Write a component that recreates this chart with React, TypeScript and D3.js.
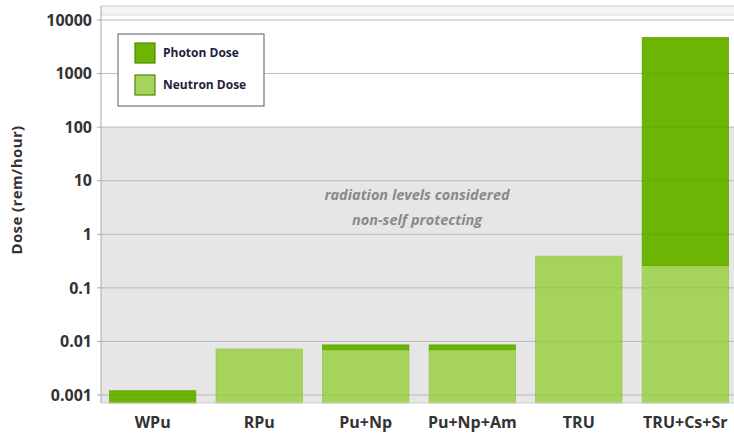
import React from "react";
import * as d3 from "d3";

const categories = ["WPu", "RPu", "Pu+Np", "Pu+Np+Am", "TRU", "TRU+Cs+Sr"];
const neutronDose = [0, 0.0072, 0.007, 0.007, 0.39, 0.26];
const photonDose = [0.0012, 0, 0.0016, 0.0016, 0, 4700];
const tickValues = [0.001, 0.01, 0.1, 1, 10, 100, 1000, 10000];
const tickLabels = ["0.001", "0.01", "0.1", "1", "10", "100", "1000", "10000"];
const legendLabels = ["Photon Dose", "Neutron Dose"];
const shadeThreshold = 100;

const W = 734;
const H = 437;
const left = 101;
const right = 734;
const plotTop = 6;
const plotBottom = 403;

const photonColor = "#6db505";
const neutronColor = "#a6d35c";
const font = "'Open Sans', 'DejaVu Sans', sans-serif";

export default function App() {
  const y = d3.scaleLog().domain([0.001, 10000]).range([395, 20]);
  const x = d3
    .scaleBand<string>()
    .domain(categories)
    .range([left, 737])
    .paddingInner(0.19)
    .paddingOuter(0.08);
  const base = y.invert(plotBottom);

  const bars = categories.map((c, i) => {
    const n = neutronDose[i];
    const p = photonDose[i];
    const nTop = n > 0 ? n : base;
    const total = n + p;
    return { c, n, p, nTop, total };
  });

  return (
    <svg
      width={W}
      height={H}
      style={{ position: "absolute", left: 0, top: 0, background: "#fff" }}
    >
      <rect x={left} y={plotTop} width={right - left} height={9} fill="#f4f4f4" />
      <line x1={left} x2={right} y1={plotTop} y2={plotTop} stroke="#cfcfcf" />
      <line x1={left} x2={right} y1={plotTop + 9} y2={plotTop + 9} stroke="#dcdcdc" />
      <rect
        x={left}
        y={y(shadeThreshold)}
        width={right - left}
        height={plotBottom - y(shadeThreshold)}
        fill="#e6e6e6"
      />
      {tickValues.map((t) => (
        <line
          key={"g" + t}
          x1={left}
          x2={right}
          y1={y(t)}
          y2={y(t)}
          stroke="#c6c6c6"
          strokeWidth={1}
        />
      ))}
      {bars.map((b) => (
        <g key={b.c}>
          {b.n > 0 && (
            <rect
              x={x(b.c)}
              y={y(b.n)}
              width={x.bandwidth()}
              height={plotBottom - y(b.n)}
              fill={neutronColor}
              stroke="#98c64e"
              strokeWidth={0.8}
            />
          )}
          {b.p > 0 && (
            <rect
              x={x(b.c)}
              y={y(b.total)}
              width={x.bandwidth()}
              height={y(b.nTop) - y(b.total)}
              fill={photonColor}
              stroke="#62a504"
              strokeWidth={0.8}
            />
          )}
        </g>
      ))}
      {tickValues.map((t) => (
        <line
          key={"go" + t}
          x1={left}
          x2={right}
          y1={y(t)}
          y2={y(t)}
          stroke="#000"
          strokeOpacity={0.06}
        />
      ))}
      <line x1={left} x2={left} y1={plotTop} y2={plotBottom} stroke="#a8a8a8" />
      <line x1={left} x2={right} y1={plotBottom} y2={plotBottom} stroke="#d0d0d0" />
      {tickValues.map((t, i) => (
        <g key={"t" + t}>
          <line x1={left - 4} x2={left} y1={y(t)} y2={y(t)} stroke="#a8a8a8" />
          <text
            x={92}
            y={y(t)}
            dy="0.36em"
            textAnchor="end"
            fontFamily={font}
            fontWeight={700}
            fontSize={16}
            fill="#333"
          >
            {tickLabels[i]}
          </text>
        </g>
      ))}
      <text
        transform={`translate(22,190) rotate(-90)`}
        textAnchor="middle"
        fontFamily={font}
        fontWeight={700}
        fontSize={15}
        letterSpacing={0.4}
        fill="#333"
      >
        Dose (rem/hour)
      </text>
      {categories.map((c) => (
        <text
          key={"x" + c}
          x={(x(c) as number) + x.bandwidth() / 2}
          y={428}
          textAnchor="middle"
          fontFamily={font}
          fontWeight={700}
          fontSize={16}
          fill="#333"
        >
          {c}
        </text>
      ))}
      <text
        x={417}
        y={200}
        textAnchor="middle"
        fontFamily={font}
        fontWeight={700}
        fontStyle="italic"
        fontSize={14.5}
        fill="#8a8a8a"
      >
        radiation levels considered
      </text>
      <text
        x={417}
        y={225}
        textAnchor="middle"
        fontFamily={font}
        fontWeight={700}
        fontStyle="italic"
        fontSize={14.5}
        fill="#8a8a8a"
      >
        non-self protecting
      </text>
      <rect x={118} y={34} width={146} height={72} fill="#fff" stroke="#777" strokeWidth={1.2} />
      {legendLabels.map((l, i) => (
        <g key={l}>
          <rect
            x={135}
            y={43 + i * 32}
            width={20}
            height={20}
            fill={i === 0 ? photonColor : neutronColor}
            stroke="#4f8a00"
            strokeWidth={1.2}
          />
          <text
            x={163}
            y={53 + i * 32}
            dy="0.36em"
            fontFamily={font}
            fontWeight={700}
            fontSize={12}
            fill="#1e1e3a"
          >
            {l}
          </text>
        </g>
      ))}
    </svg>
  );
}
